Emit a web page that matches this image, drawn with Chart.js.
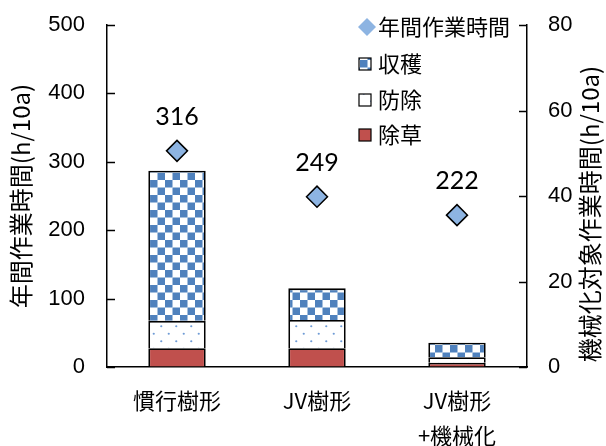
<!DOCTYPE html>
<html>
<head>
<meta charset="utf-8">
<script src="https://cdn.jsdelivr.net/npm/chart.js@4/dist/chart.umd.min.js"></script>
<style>
  html, body { margin: 0; padding: 0; background: #fff; }
  #wrap { width: 606px; height: 446px; }
</style>
</head>
<body>
<div id="wrap"><canvas id="c" width="606" height="446"></canvas></div>
<script>
// Work hours per 10a by tree training system
const categories = ['慣行樹形', 'JV樹形', ['JV樹形', '+機械化']];
const annualHours = [316, 249, 222];      // 年間作業時間 (left axis)
const weeding = [4.4, 4.4, 1.0];          // 除草 (right axis)
const spraying = [6.4, 6.6, 1.3];         // 防除
const harvest = [35.1, 7.4, 3.4];         // 収穫
const leftTicks = [0, 100, 200, 300, 400, 500];
const rightTicks = [0, 20, 40, 60, 80];

const JP = '"Noto Sans CJK JP", "Noto Sans", sans-serif';
const NUM = '"Liberation Sans", Arial, sans-serif';
const BLUE = '#4F81BD';
const RED = '#C0504D';
const DIAMOND = '#8DB4E2';

const canvas = document.getElementById('c');
const ctx = canvas.getContext('2d');

function makePattern(draw) {
  const c = document.createElement('canvas');
  c.width = 15; c.height = 15;
  const g = c.getContext('2d');
  g.fillStyle = '#fff';
  g.fillRect(0, 0, 15, 15);
  draw(g);
  return ctx.createPattern(c, 'repeat');
}
const checker = makePattern(g => {
  g.fillStyle = BLUE;
  g.fillRect(0, 0, 7.5, 7.5);
  g.fillRect(7.5, 7.5, 7.5, 7.5);
});
const dots = makePattern(g => {
  g.fillStyle = '#6E9BD6';
  g.beginPath(); g.arc(3.75, 3.75, 1.1, 0, Math.PI * 2); g.fill();
  g.beginPath(); g.arc(11.25, 11.25, 1.1, 0, Math.PI * 2); g.fill();
});

// inward tick marks on both value axes
const innerTicks = {
  id: 'innerTicks',
  afterDraw(chart) {
    const { ctx, chartArea, scales } = chart;
    ctx.save();
    ctx.strokeStyle = '#000';
    ctx.lineWidth = 1.5;
    leftTicks.forEach(v => {
      const y = Math.round(scales.y.getPixelForValue(v)) + 0.5;
      ctx.beginPath(); ctx.moveTo(chartArea.left, y); ctx.lineTo(chartArea.left + 8, y); ctx.stroke();
    });
    rightTicks.forEach(v => {
      const y = Math.round(scales.y1.getPixelForValue(v)) + 0.5;
      ctx.beginPath(); ctx.moveTo(chartArea.right - 8, y); ctx.lineTo(chartArea.right, y); ctx.stroke();
    });
    ctx.restore();
  }
};

// value labels above the diamonds
const valueLabels = {
  id: 'valueLabels',
  afterDatasetsDraw(chart) {
    const { ctx } = chart;
    const meta = chart.getDatasetMeta(0);
    ctx.save();
    ctx.fillStyle = '#000';
    ctx.font = '25px Lato, "Open Sans", sans-serif';
    ctx.textAlign = 'center';
    ctx.textBaseline = 'middle';
    meta.data.forEach((pt, i) => ctx.fillText(String(annualHours[i]), pt.x, pt.y - 34));
    ctx.restore();
  }
};

// right-hand axis title, reading bottom to top
const rightTitle = {
  id: 'rightTitle',
  afterDraw(chart) {
    const { ctx } = chart;
    ctx.save();
    ctx.translate(590, 214);
    ctx.rotate(-Math.PI / 2);
    ctx.fillStyle = '#000';
    ctx.font = '24px ' + JP;
    ctx.textAlign = 'center';
    ctx.textBaseline = 'middle';
    ctx.fillText('機械化対象作業時間(h/10a)', 0, 0);
    ctx.restore();
  }
};

// legend box in the upper right of the plot
const legendBox = {
  id: 'legendBox',
  afterDraw(chart) {
    const { ctx } = chart;
    const items = [
      { label: '年間作業時間', kind: 'diamond', y: 27 },
      { label: '収穫', fill: checker, y: 64 },
      { label: '防除', fill: dots, y: 100 },
      { label: '除草', fill: RED, y: 135 }
    ];
    ctx.save();
    ctx.font = '22px ' + JP;
    ctx.textBaseline = 'middle';
    ctx.textAlign = 'left';
    items.forEach(it => {
      if (it.kind === 'diamond') {
        ctx.fillStyle = DIAMOND;
        ctx.beginPath();
        ctx.moveTo(367, it.y - 9); ctx.lineTo(376, it.y);
        ctx.lineTo(367, it.y + 9); ctx.lineTo(358, it.y);
        ctx.closePath(); ctx.fill();
      } else {
        ctx.fillStyle = it.fill;
        ctx.fillRect(359, it.y - 6, 12, 12);
        ctx.strokeStyle = '#000';
        ctx.lineWidth = 1.2;
        ctx.strokeRect(359, it.y - 6, 12, 12);
      }
      ctx.fillStyle = '#000';
      ctx.fillText(it.label, 378, it.y);
    });
    ctx.restore();
  }
};

const barCommon = {
  type: 'bar',
  yAxisID: 'y1',
  stack: 'work',
  borderColor: '#000',
  borderWidth: { top: 1.8, left: 1.8, right: 1.8, bottom: 0 },
  borderSkipped: false,
  barPercentage: 0.41,
  categoryPercentage: 1.0,
  order: 1
};

// keep the plot edges fixed regardless of label sizes
function fixVertical(width) {
  return s => { s.width = width; s.paddingTop = 12; s.paddingBottom = 12; };
}

new Chart(ctx, {
  data: {
    labels: categories,
    datasets: [
      {
        type: 'line',
        label: '年間作業時間',
        data: annualHours,
        yAxisID: 'y',
        showLine: false,
        pointStyle: 'rectRot',
        pointRadius: 10.5,
        pointBackgroundColor: DIAMOND,
        pointBorderColor: '#000',
        pointBorderWidth: 1.5,
        order: 0
      },
      Object.assign({ label: '除草', data: weeding, backgroundColor: RED }, barCommon),
      Object.assign({ label: '防除', data: spraying, backgroundColor: dots }, barCommon),
      Object.assign({ label: '収穫', data: harvest, backgroundColor: checker }, barCommon)
    ]
  },
  options: {
    responsive: false,
    animation: false,
    layout: { padding: { top: 25, left: 0, right: 0, bottom: 0 } },
    plugins: { legend: { display: false }, tooltip: { enabled: false } },
    scales: {
      x: {
        stacked: true,
        grid: { display: true, drawOnChartArea: false, drawTicks: false },
        border: { display: true, color: '#000', width: 1.5 },
        ticks: {
          color: '#000',
          font: { family: JP, size: 22, lineHeight: 1.55 },
          padding: 17,
          maxRotation: 0,
          autoSkip: false
        },
        afterFit(s) { s.height = 79; }
      },
      y: {
        position: 'left',
        min: 0, max: 500,
        afterBuildTicks(s) { s.ticks = leftTicks.map(v => ({ value: v })); },
        grid: { display: true, drawOnChartArea: false, drawTicks: false },
        border: { display: true, color: '#000', width: 1.5 },
        ticks: { color: '#000', font: { family: NUM, size: 22 }, padding: 22 },
        title: {
          display: true,
          text: '年間作業時間(h/10a)',
          color: '#000',
          font: { family: JP, size: 24 },
          padding: { top: 6, bottom: 0 }
        },
        afterFit: fixVertical(107)
      },
      y1: {
        position: 'right',
        stacked: true,
        min: 0, max: 80,
        afterBuildTicks(s) { s.ticks = rightTicks.map(v => ({ value: v })); },
        grid: { display: true, drawOnChartArea: false, drawTicks: false },
        border: { display: true, color: '#000', width: 1.5 },
        ticks: { color: '#000', font: { family: NUM, size: 22 }, padding: 21 },
        afterFit: fixVertical(79)
      }
    }
  },
  plugins: [innerTicks, valueLabels, rightTitle, legendBox]
});
</script>
</body>
</html>
